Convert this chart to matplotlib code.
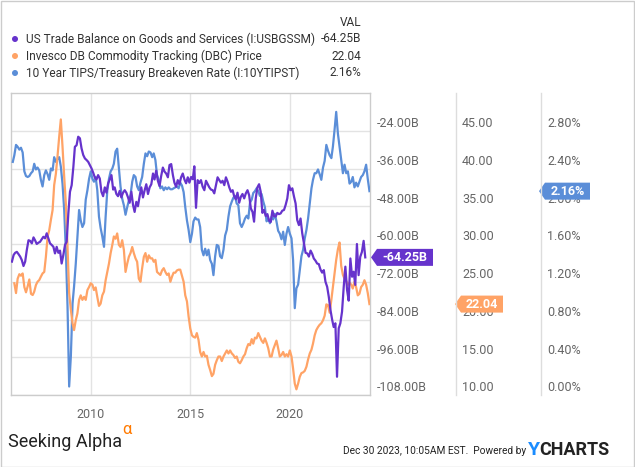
"""
Recreate YCharts comparison: US trade balance vs DBC price vs 10y breakeven.
"""
import matplotlib
matplotlib.use("Agg")
import matplotlib.pyplot as plt
from matplotlib.patches import Polygon, Circle, Rectangle
from matplotlib.lines import Line2D
from matplotlib.transforms import IdentityTransform
import pandas as pd

plt.rcParams["font.family"] = ["Roboto", "DejaVu Sans"]

# ---- data ----
# US Trade Balance on Goods and Services, billions USD, monthly Jan 2006 - Oct 2023
trade_balance = [
    -65.6, -63.5, -62.8, -62.5, -63.2, -64.0, -65.1, -67.0, -65.6, -61.9, -58.8, -59.0,
    -59.8, -57.9, -58.8, -60.0, -59.6, -59.3, -58.5, -57.7, -58.2, -56.6, -58.2, -59.8,
    -60.3, -60.9, -63.0, -60.9, -62.8, -62.1, -66.2, -63.5, -60.3, -59.3, -50.3, -43.4,
    -41.3, -35.5, -29.1, -28.6, -25.9, -26.4, -29.6, -31.7, -32.8, -33.3, -33.9, -34.9,
    -36.0, -37.4, -38.8, -39.5, -38.1, -39.2, -43.4, -44.8, -42.0, -43.7, -40.7, -39.5,
    -38.1, -42.7, -42.0, -44.1, -44.8, -43.1, -45.2, -43.7, -42.9, -43.7, -45.2, -46.9,
    -43.4, -47.6, -49.8, -46.6, -48.0, -44.8, -42.0, -45.2, -42.9, -41.0, -44.1, -42.0,
    -41.0, -37.6, -39.5, -36.7, -39.9, -41.6, -38.4, -35.7, -37.0, -37.6, -38.8, -34.9,
    -34.6, -38.1, -40.5, -41.8, -39.7, -41.0, -38.8, -37.6, -39.5, -40.7, -38.8, -40.5,
    -38.7, -39.4, -35.3, -48.5, -39.7, -40.6, -39.7, -41.8, -42.9, -39.9, -41.0, -42.0,
    -42.7, -42.9, -43.9, -41.3, -38.8, -39.7, -40.5, -39.9, -41.3, -38.8, -40.2, -42.0,
    -43.4, -42.9, -44.8, -45.8, -43.7, -46.9, -45.0, -44.1, -45.5, -43.9, -42.9, -44.5,
    -48.7, -49.8, -52.9, -45.5, -42.0, -41.0, -43.4, -50.1, -49.2, -51.1, -50.5, -52.6,
    -53.0, -49.4, -51.1, -51.3, -50.1, -50.5, -50.3, -49.4, -49.2, -47.6, -45.5, -41.3,
    -42.9, -42.3, -44.8, -47.1, -52.4, -54.0, -51.9, -56.6, -59.8, -62.8, -63.0, -64.0,
    -62.1, -63.2, -64.6, -65.3, -66.2, -66.4, -68.1, -69.1, -68.3, -72.0, -73.6, -76.8,
    -81.0, -84.1, -86.4, -85.2, -102.2, -86.8, -85.2, -81.5, -73.6, -67.2, -74.6, -78.0,
    -64.6, -70.4, -68.8, -73.0, -60.0, -69.9, -64.1, -62.5, -59.0, -64.25,
]

# Invesco DB Commodity Tracking (DBC) price, month ends Feb 2006 - Dec 2023
dbc_price = [
    24.8, 23.5, 25.4, 26.0, 25.8, 26.1, 24.3, 23.6, 24.4, 25.3, 23.4,
    23.24, 23.68, 24.56, 25.0, 25.22, 25.67, 26.1, 26.3, 28.3, 31.0, 31.8, 33.2,
    34.5, 37.8, 39.3, 41.6, 44.2, 46.5, 42.9, 38.9, 35.4, 29.6, 23.5, 21.3,
    19.5, 18.6, 19.9, 20.8, 22.6, 23.2, 22.6, 23.0, 22.6, 23.9, 24.3, 24.8,
    24.6, 23.9, 24.25, 23.0, 21.8, 22.1, 23.2, 23.7, 25.2, 26.3, 27.4, 28.8,
    29.9, 31.0, 30.7, 31.4, 29.9, 29.6, 30.5, 29.2, 26.3, 27.4, 28.3, 28.8,
    29.6, 28.8, 28.1, 27.65, 25.4, 25.0, 26.8, 28.3, 28.8, 27.65, 28.5, 28.1,
    28.1, 27.65, 27.9, 26.3, 26.1, 25.9, 26.5, 26.8, 26.3, 25.9, 26.1, 25.0,
    25.7, 26.2, 26.2, 26.5, 26.6, 26.6, 25.8, 25.0, 23.2, 22.4, 20.4, 18.8,
    17.9, 17.7, 17.6, 18.2, 17.3, 15.7, 15.1, 15.7, 15.1, 15.2, 14.0, 13.3,
    12.5, 12.8, 14.0, 14.6, 15.1, 15.1, 14.5, 15.1, 15.5, 15.9, 15.5, 15.9,
    15.5, 15.3, 14.9, 15.1, 14.4, 14.2, 14.6, 15.1, 15.4, 16.2, 16.75, 16.6,
    17.4, 16.8, 17.6, 17.5, 18.2, 17.7, 17.2, 16.9, 17.5, 16.9, 16.2, 15.1,
    15.1, 16.0, 16.6, 17.2, 16.2, 15.1, 15.3, 15.7, 15.1, 15.4, 15.1, 15.9,
    15.1, 13.5, 11.5, 10.75, 11.5, 12.4, 12.9, 13.0, 13.2, 13.75, 14.7, 15.5,
    16.0, 16.8, 17.9, 18.6, 19.0, 19.3, 19.5, 19.9, 20.5, 22.0, 21.9, 20.9,
    22.6, 24.3, 26.3, 27.9, 29.3, 30.2, 27.1, 25.9, 25.4, 25.1, 24.6, 24.9,
    24.6, 24.1, 25.0, 24.3, 23.2, 23.4, 24.3, 24.6, 25.2, 24.6, 23.5, 22.04,
]

# 10 Year TIPS/Treasury breakeven rate, %, month ends Jan 2006 - Dec 2023
breakeven = [
    2.47, 2.54, 2.65, 2.63, 2.60, 2.62, 2.57, 2.37, 2.32, 2.31, 2.32, 2.35,
    2.37, 2.45, 2.39, 2.41, 2.38, 2.28, 2.21, 2.33, 2.38, 2.34, 2.28, 2.40,
    2.38, 2.52, 2.47, 2.50, 2.52, 2.42, 2.24, 1.96, 1.54, 0.94, 0.09, 0.41,
    0.97, 1.15, 1.39, 1.68, 1.96, 1.85, 1.78, 1.82, 2.07, 2.17, 2.29, 2.37,
    2.29, 2.26, 2.31, 2.17, 1.89, 1.77, 1.68, 1.57, 1.89, 2.17, 2.29, 2.37,
    2.40, 2.45, 2.58, 2.61, 2.40, 2.21, 2.08, 2.01, 1.91, 1.99, 2.06, 2.12,
    2.26, 2.33, 2.31, 2.21, 2.17, 2.25, 2.31, 2.45, 2.56, 2.53, 2.58, 2.57,
    2.52, 2.56, 2.49, 2.33, 2.28, 2.19, 2.21, 2.17, 2.20, 2.18, 2.20, 2.18,
    2.18, 2.19, 2.20, 2.21, 2.19, 2.25, 2.22, 2.15, 1.99, 1.85, 1.75, 1.62,
    1.71, 1.84, 1.88, 1.86, 1.86, 1.78, 1.54, 1.48, 1.55, 1.48, 1.54, 1.43,
    1.39, 1.27, 1.47, 1.59, 1.58, 1.47, 1.45, 1.54, 1.69, 1.75, 1.89, 2.00,
    2.05, 2.09, 2.11, 2.03, 2.01, 1.82, 1.78, 1.82, 1.87, 1.90, 1.87, 2.04,
    2.07, 2.14, 2.16, 2.19, 2.16, 2.11, 2.13, 2.05, 1.99, 1.84, 1.87, 1.82,
    1.89, 1.86, 1.92, 1.84, 1.74, 1.71, 1.65, 1.73, 1.59, 1.71, 1.78, 1.71,
    1.66, 1.43, 0.92, 1.13, 1.17, 1.32, 1.47, 1.54, 1.66, 1.75, 1.87, 2.03,
    2.19, 2.28, 2.35, 2.35, 2.39, 2.34, 2.28, 2.41, 2.48, 2.65, 2.59, 2.54,
    2.51, 2.63, 2.81, 3.00, 2.77, 2.63, 2.49, 2.35, 2.44, 2.35, 2.37, 2.24,
    2.26, 2.31, 2.20, 2.25, 2.21, 2.26, 2.31, 2.33, 2.37, 2.44, 2.29, 2.16,
]

series_names = [
    "US Trade Balance on Goods and Services (I:USBGSSM)",
    "Invesco DB Commodity Tracking (DBC) Price",
    "10 Year TIPS/Treasury Breakeven Rate (I:10YTIPST)",
]
last_labels = ["-64.25B", "22.04", "2.16%"]
colors = ["#6633cc", "#ffa366", "#5b8ed8"]

tb_ticks = [-108, -96, -84, -72, -60, -48, -36, -24]
dbc_ticks = [10, 15, 20, 25, 30, 35, 40, 45]
be_ticks = [0.0, 0.4, 0.8, 1.2, 1.6, 2.0, 2.4, 2.8]
year_ticks = ["2010", "2015", "2020"]

tb_dates = pd.date_range("2006-01-01", periods=len(trade_balance), freq="MS") + pd.Timedelta(days=14)
dbc_dates = pd.date_range("2006-02-28", periods=len(dbc_price), freq="ME")
be_dates = pd.date_range("2006-01-31", periods=len(breakeven), freq="ME")

# ---- figure, pixel layout ----
W, H = 635, 467
fig = plt.figure(figsize=(W / 100, H / 100), dpi=100)
L, R, T, B = 11, 370, 93, 395
ax = fig.add_axes([L / W, 1 - B / H, (R - L) / W, (B - T) / H])
ax_be = ax.twinx()
ax_dbc = ax.twinx()
ax_tb = ax.twinx()

ax.set_xlim(pd.Timestamp("2005-12-29"), pd.Timestamp("2024-01-10"))
ax.set_ylim(-108, -12)
ax_tb.set_ylim(-108, -12)
ax_dbc.set_ylim(10, 50)
ax_be.set_ylim(0, 3.2)

grid_c = "#e3e3e3"
ax.set_yticks(tb_ticks)
ax.set_xticks([pd.Timestamp(f"{y}-01-01") for y in year_ticks])
ax.set_xticklabels(year_ticks)
ax.grid(True, color=grid_c, lw=1)
ax.tick_params(axis="y", length=0, labelleft=False)
ax.tick_params(axis="x", length=0, pad=9, labelsize=9, labelcolor="#666666")
for s in ax.spines.values():
    s.set_color("#cccccc")
    s.set_linewidth(1)

for a in (ax_be, ax_dbc, ax_tb):
    a.set_yticks([])
    a.tick_params(length=0)
    for s in a.spines.values():
        s.set_visible(False)

ax_be.plot(be_dates, breakeven, color=colors[2], lw=1.6)
ax_dbc.plot(dbc_dates, dbc_price, color=colors[1], lw=1.6)
ax_tb.plot(tb_dates, trade_balance, color=colors[0], lw=1.6)

# right-hand value scales
scales = [
    (ax_tb, tb_ticks, "{:.2f}B", 7),
    (ax_dbc, dbc_ticks, "{:.2f}", 92),
    (ax_be, be_ticks, "{:.2f}%", 177),
]
for a, ticks, fmt, dx in scales:
    for v in ticks:
        a.annotate(fmt.format(v), xy=(1, v), xycoords=("axes fraction", "data"),
                   xytext=(dx, 7), textcoords="offset pixels", ha="left", va="center",
                   fontsize=9, color="#666666", annotation_clip=False)

# column separators
for xs in (456, 541):
    fig.add_artist(Line2D([xs / W, xs / W], [1 - B / H, 1 - T / H],
                          transform=fig.transFigure, color="#dddddd", lw=1))

# last-value flags
ident = IdentityTransform()
flags = [
    (ax_tb, trade_balance[-1], 371, 433),
    (ax_dbc, dbc_price[-1], 455, 503),
    (ax_be, breakeven[-1], 539, 590),
]
for (a, val, x0, x1), lab, c in zip(flags, last_labels, colors):
    yc = a.transData.transform((0, val))[1]
    h = 8.5
    verts = [(x0, yc), (x0 + 6, yc + h), (x1, yc + h), (x1, yc - h), (x0 + 6, yc - h)]
    fig.add_artist(Polygon(verts, closed=True, transform=ident, fc=c, ec="none"))
    fig.text((x0 + 6 + x1) / 2 / W, yc / H, lab, ha="center", va="center",
             color="white", fontsize=9, fontweight="bold")

# legend block
leg_y = [39, 56, 73]
for y, name, lab, c in zip(leg_y, series_names, last_labels, colors):
    fig.add_artist(Circle((15, H - y), 3, transform=ident, fc=c, ec="none"))
    fig.text(26 / W, 1 - y / H, name, ha="left", va="center", fontsize=8.6, color="#333333")
    fig.text(361 / W, 1 - y / H, lab, ha="right", va="center", fontsize=8.6, color="#333333")
fig.text(361 / W, 1 - 22 / H, "VAL", ha="right", va="center", fontsize=8.6, color="#333333")

# footer
fig.text(8 / W, 1 - 442 / H, "Seeking Alpha", ha="left", va="center", fontsize=13,
         color="#222222")
fig.text(122 / W, 1 - 430 / H, "\u03b1", ha="left", va="center", fontsize=12,
         color="#ff7a00")
fig.text(526 / W, 1 - 451 / H, "Dec 30 2023, 10:05AM EST.  Powered by", ha="right",
         va="center", fontsize=7.3, color="#222222")
fig.text(528 / W, 1 - 450 / H, "Y", ha="left", va="center", fontsize=14,
         fontweight="bold", color="#1a8cff")
fig.text(539 / W, 1 - 450 / H, "CHARTS", ha="left", va="center", fontsize=13,
         fontweight="bold", color="#222222")

# outer border
fig.add_artist(Rectangle((0.5 / W, 0.5 / H), 1 - 1.5 / W, 1 - 1.5 / H,
                         transform=fig.transFigure, fill=False, ec="#cccccc", lw=1))

fig.savefig("out.png", dpi=100)
